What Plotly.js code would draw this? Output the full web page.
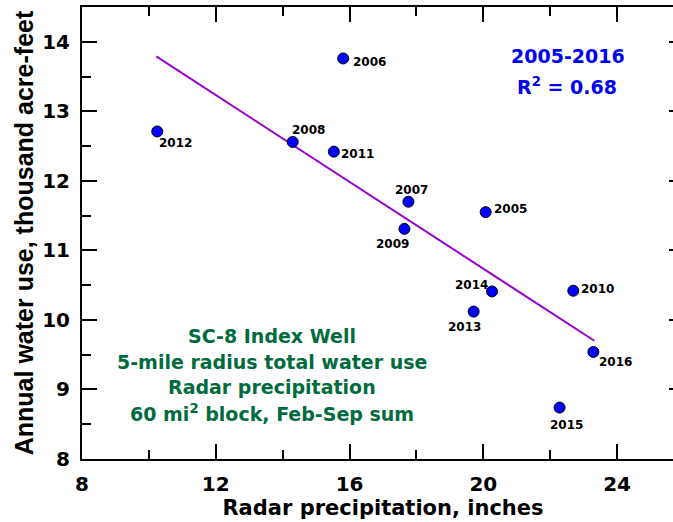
<!DOCTYPE html>
<html><head><meta charset="utf-8">
<script src="https://cdn.plot.ly/plotly-3.0.1.min.js"></script>
<style>html,body{margin:0;padding:0;overflow:hidden;background:#fff}#chart{width:684px;height:522px}</style>
</head><body><div id="chart"></div>
<script>
// Data
const years  = ['2005','2006','2007','2008','2009','2010','2011','2012','2013','2014','2015','2016'];
const precip = [20.07, 15.81, 17.76, 14.30, 17.64, 22.69, 15.53, 10.25, 19.71, 20.26, 22.28, 23.29];
const water  = [11.55, 13.76, 11.70, 12.56, 11.31, 10.42, 12.42, 12.71, 10.12, 10.41, 8.74, 9.54];
const trendX = [10.22, 23.32];
const trendY = [13.79, 9.70];
const xTicks = [8, 12, 16, 20, 24];
const yTicks = [8, 9, 10, 11, 12, 13, 14];
const periodText = '2005-2016';
const r2Text = 'R<sup>2</sup> = 0.68';
const noteLines = ['SC-8 Index Well', '5-mile radius total water use', 'Radar precipitation', '60 mi<sup>2</sup> block, Feb-Sep sum'];

// Label offsets (pixels, right/up) - styling only
const labelShift = {
  '2005':[25,3], '2006':[26,-4], '2007':[3,12], '2008':[16,12], '2009':[-12,-15], '2010':[24,2],
  '2011':[24,-2], '2012':[18,-12], '2013':[-9,-15], '2014':[-21,6], '2015':[7,-17], '2016':[22,-10]
};

const F = 'DejaVu Sans';
const traces = [
  {x: trendX, y: trendY, mode: 'lines', line: {color: '#9900CC', width: 2}, hoverinfo: 'skip'},
  {x: precip, y: water, mode: 'markers',
   marker: {size: 11, color: '#0000FF', line: {color: '#000', width: 1}}}
];

const annotations = years.map((yr, i) => ({
  x: precip[i], y: water[i], xref: 'x', yref: 'y', text: yr, showarrow: false,
  xshift: labelShift[yr][0], yshift: labelShift[yr][1],
  font: {family: F, size: 12, weight: 'bold', color: '#000'}
}));
annotations.push({x: 22.54, y: 13.79, xref: 'x', yref: 'y', text: periodText, showarrow: false,
  font: {family: F, size: 19, weight: 'bold', color: '#0000F0'}});
annotations.push({x: 22.50, y: 13.36, xref: 'x', yref: 'y', text: r2Text, showarrow: false,
  font: {family: F, size: 19, weight: 'bold', color: '#0000F0'}});
noteLines.forEach((t, i) => annotations.push({
  x: 13.69, y: 9.77, xref: 'x', yref: 'y', yshift: -25.7 * i, text: t, showarrow: false,
  font: {family: F, size: 19, weight: 'bold', color: '#006B3C'}
}));

const axisCommon = {
  showline: true, linewidth: 2, linecolor: '#000', mirror: 'ticks',
  ticks: 'inside', ticklen: 15, tickwidth: 2, tickcolor: '#000',
  showgrid: false, zeroline: false,
  tickfont: {family: F, size: 20, weight: 'bold', color: '#000'}
};

const layout = {
  width: 684, height: 522,
  margin: {l: 82, r: 0, t: 7, b: 63},
  paper_bgcolor: '#fff', plot_bgcolor: '#fff',
  showlegend: false,
  xaxis: Object.assign({}, axisCommon, {
    range: [8, 26], tickvals: xTicks, ticktext: xTicks.map(String),
    minor: {dtick: 2, tick0: 0, ticks: 'inside', ticklen: 9, tickwidth: 2, tickcolor: '#000'},
    ticklabelstandoff: 6,
    title: {text: 'Radar precipitation, inches', standoff: 1,
      font: {family: F, size: 21, weight: 'bold', color: '#000'}}
  }),
  yaxis: Object.assign({}, axisCommon, {
    range: [8, 14.5], tickvals: yTicks, ticktext: yTicks.map(String),
    minor: {dtick: 0.5, tick0: 0, ticks: 'inside', ticklen: 9, tickwidth: 2, tickcolor: '#000'},
    ticklabelstandoff: 6,
    title: {text: 'Annual water use, thousand acre-feet', standoff: 1,
      font: {family: 'Liberation Sans', size: 25, weight: 'bold', color: '#000'}}
  }),
  annotations: annotations
};

Plotly.newPlot('chart', traces, layout, {displayModeBar: false, staticPlot: true});
</script></body></html>
